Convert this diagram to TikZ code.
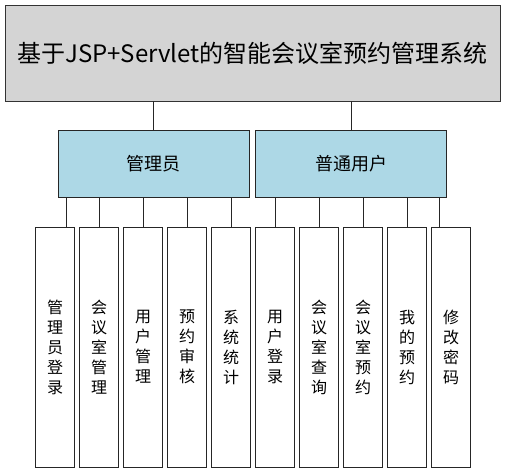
\documentclass[tikz,border=0pt]{standalone}
\usepackage{fontspec}
\setmainfont{Noto Sans CJK SC}
\usetikzlibrary{positioning}
\definecolor{sysgray}{HTML}{D4D4D4}
\definecolor{roleblue}{HTML}{ADD8E6}

\begin{document}
\begin{tikzpicture}[x=1pt, y=1pt,
	sys/.style={rectangle, draw=black!80, fill=sysgray, line width=0.9pt, minimum width=495pt, minimum height=96pt, inner sep=0pt, font=\fontsize{24pt}{28pt}\selectfont},
	role/.style={rectangle, draw=black!85, fill=roleblue, line width=0.9pt, minimum width=191pt, minimum height=67pt, inner sep=0pt, font=\fontsize{18pt}{22pt}\selectfont},
	leaf/.style={rectangle, draw=black!85, fill=white, line width=0.9pt, minimum width=38.5pt, minimum height=240pt, inner sep=0pt, align=center, font=\fontsize{16pt}{20pt}\selectfont},
	link/.style={draw=black!85, line width=0.9pt},
	node distance=44pt, on grid]
		\useasboundingbox (0,0) rectangle (505,-473);
		\node[sys] (sys) at (252.5,-53) {基于JSP+Servlet的智能会议室预约管理系统};
		\node[role] (adm) at (153.5,-163.5) {管理员};
		\node[role] (usr) at (351,-163.5) {普通用户};
		\node[leaf] (a1) at (55,-347) {管\\理\\员\\登\\录};
		\node[leaf] (a2) [right=of a1] {会\\议\\室\\管\\理};
		\node[leaf] (a3) [right=of a2] {用\\户\\管\\理};
		\node[leaf] (a4) [right=of a3] {预\\约\\审\\核};
		\node[leaf] (a5) [right=of a4] {系\\统\\统\\计};
		\node[leaf] (u1) [right=of a5] {用\\户\\登\\录};
		\node[leaf] (u2) [right=of u1] {会\\议\\室\\查\\询};
		\node[leaf] (u3) [right=of u2] {会\\议\\室\\预\\约};
		\node[leaf] (u4) [right=of u3] {我\\的\\预\\约};
		\node[leaf] (u5) [right=of u4] {修\\改\\密\\码};
		% top level
		\draw[link] (adm.north) -- (adm.north |- sys.south);
		\draw[link] (usr.north) -- (usr.north |- sys.south);
		% admin functions
		\draw[link] ([xshift=11pt]a1.north) -- ([xshift=11pt]a1.north |- adm.south);
		\draw[link] (a2.north) -- (a2.north |- adm.south);
		\draw[link] (a3.north) -- (a3.north |- adm.south);
		\draw[link] (a4.north) -- (a4.north |- adm.south);
		\draw[link] (a5.north) -- (a5.north |- adm.south);
		% user functions
		\draw[link] (u1.north) -- (u1.north |- usr.south);
		\draw[link] (u2.north) -- (u2.north |- usr.south);
		\draw[link] (u3.north) -- (u3.north |- usr.south);
		\draw[link] (u4.north) -- (u4.north |- usr.south);
		\draw[link] ([xshift=-12pt]u5.north) -- ([xshift=-12pt]u5.north |- usr.south);
\end{tikzpicture}
\end{document}
